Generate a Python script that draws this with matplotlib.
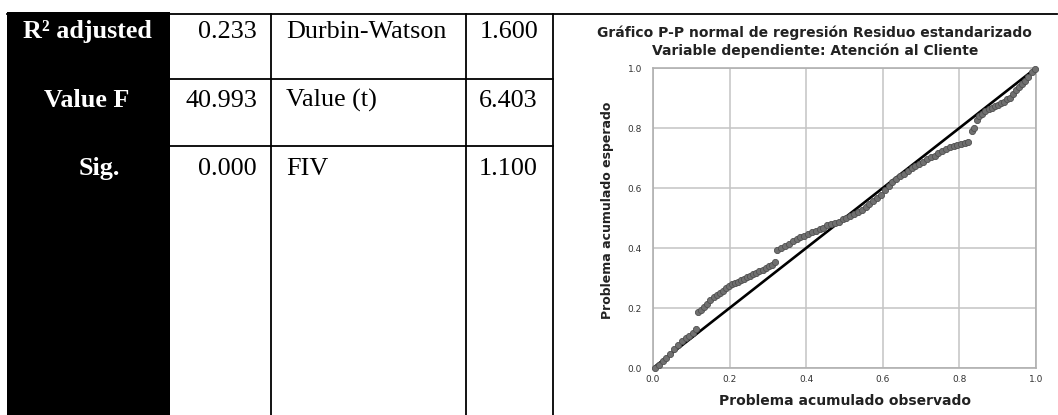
import matplotlib
matplotlib.use('Agg')
import matplotlib.pyplot as plt
from matplotlib.patches import Rectangle

# table content
row_labels = ['R² adjusted', 'Value F', 'Sig.']
row_values = ['0.233', '40.993', '0.000']
stat_names = ['Durbin-Watson', 'Value (t)', 'FIV']
stat_values = ['1.600', '6.403', '1.100']

obs = [0.005, 0.015, 0.025, 0.035, 0.045, 0.055, 0.065, 0.075, 0.085, 0.095, 0.105, 0.112,
       0.118, 0.126, 0.134, 0.142, 0.150, 0.158, 0.166, 0.174, 0.182, 0.190, 0.198, 0.206,
       0.214, 0.222, 0.230, 0.238, 0.246, 0.254, 0.262, 0.270, 0.278, 0.286, 0.294, 0.302,
       0.310, 0.318,
       0.325, 0.335, 0.345, 0.355, 0.365, 0.375, 0.385, 0.395, 0.405, 0.415, 0.425, 0.435,
       0.445, 0.455, 0.465, 0.475, 0.485, 0.495, 0.505, 0.515, 0.525, 0.535, 0.545, 0.555,
       0.565, 0.575, 0.585, 0.595, 0.605, 0.615,
       0.625, 0.635, 0.645, 0.655, 0.665, 0.675, 0.685, 0.695, 0.705, 0.715, 0.725, 0.735,
       0.745, 0.755, 0.765, 0.775, 0.785, 0.795, 0.805, 0.815, 0.822,
       0.832, 0.838, 0.845, 0.852, 0.860, 0.868, 0.876, 0.884, 0.892, 0.900, 0.908, 0.916,
       0.924, 0.932, 0.940, 0.948, 0.956, 0.964, 0.972, 0.980, 0.990, 0.998]
exp = [0.000, 0.010, 0.022, 0.035, 0.048, 0.062, 0.078, 0.090, 0.100, 0.108, 0.118, 0.130,
       0.188, 0.195, 0.205, 0.215, 0.228, 0.238, 0.245, 0.250, 0.258, 0.268, 0.275, 0.280,
       0.283, 0.288, 0.292, 0.298, 0.302, 0.308, 0.312, 0.318, 0.322, 0.328, 0.335, 0.340,
       0.345, 0.352,
       0.392, 0.400, 0.408, 0.415, 0.425, 0.430, 0.435, 0.440, 0.448, 0.452, 0.456, 0.462,
       0.468, 0.475, 0.480, 0.483, 0.488, 0.495, 0.500, 0.505, 0.512, 0.520, 0.528, 0.535,
       0.545, 0.555, 0.565, 0.578, 0.592, 0.605,
       0.620, 0.630, 0.640, 0.648, 0.656, 0.665, 0.672, 0.680, 0.688, 0.695, 0.702, 0.708,
       0.715, 0.722, 0.730, 0.735, 0.740, 0.742, 0.745, 0.750, 0.752,
       0.790, 0.800, 0.825, 0.840, 0.848, 0.855, 0.862, 0.868, 0.872, 0.878, 0.882, 0.888,
       0.895, 0.900, 0.912, 0.925, 0.935, 0.945, 0.955, 0.970, 0.985, 0.998]
ticks = [0.0, 0.2, 0.4, 0.6, 0.8, 1.0]

W, H = 1058, 415
fig = plt.figure(figsize=(W / 100, H / 100), dpi=100)
fig.patch.set_facecolor('white')

# full-figure axes in pixel units for the table
tab = fig.add_axes([0, 0, 1, 1])
tab.set_xlim(0, W)
tab.set_ylim(H, 0)
tab.axis('off')

serif = 'Liberation Serif'
tab.add_patch(Rectangle((7, 12), 163, H - 12, color='black', lw=0))
tab.plot([7, 1057], [14, 14], color='black', lw=1.3)
for xv in [271, 466, 553]:
    tab.plot([xv, xv], [14, H], color='black', lw=1.3)
for yv in [79, 146]:
    tab.plot([170, 553], [yv, yv], color='black', lw=1.3)

baselines = [38, 107, 175]
label_x = [87, 87, 99]
for i in range(3):
    y = baselines[i]
    tab.text(label_x[i], y, row_labels[i], color='white', fontweight='bold', family=serif,
             fontsize=18.8, ha='center', va='baseline')
    tab.text(257, y, row_values[i], family=serif, fontsize=18.8, ha='right', va='baseline')
    tab.text(286, y, stat_names[i], family=serif, fontsize=18.8, ha='left', va='baseline')
    tab.text(538, y, stat_values[i], family=serif, fontsize=18.8, ha='right', va='baseline')

# P-P plot
sans = 'DejaVu Sans'
x0, x1, y0, y1 = 653, 1036, 68, 368
ax = fig.add_axes([x0 / W, (H - y1) / H, (x1 - x0) / W, (y1 - y0) / H])
ax.set_xlim(0, 1)
ax.set_ylim(0, 1)
ax.set_facecolor('white')
ax.grid(True, color='#c4c4c4', lw=1.1)
ax.set_axisbelow(True)
for s in ax.spines.values():
    s.set_color('#b0b0b0')
    s.set_linewidth(1.2)
ax.set_xticks(ticks)
ax.set_yticks(ticks)
ax.set_xticklabels([f'{t:.1f}' for t in ticks], family=sans)
ax.set_yticklabels([f'{t:.1f}' for t in ticks], family=sans)
ax.tick_params(length=0, labelsize=6.5, labelcolor='#333333')
ax.tick_params(axis='y', pad=8)
ax.tick_params(axis='x', pad=5)
ax.plot([0, 1], [0, 1], color='black', lw=1.9, zorder=2)
ax.scatter(obs, exp, s=20, color='#707070', edgecolors='#505050', linewidths=0.6,
           zorder=3, clip_on=False)

fig.text(814 / W, 1 - 33 / H, 'Gráfico P-P normal de regresión Residuo estandarizado',
         family=sans, fontweight='bold', fontsize=10, ha='center', va='center', color='#222222')
fig.text(815 / W, 1 - 51 / H, 'Variable dependiente: Atención al Cliente',
         family=sans, fontweight='bold', fontsize=10, ha='center', va='center', color='#222222')
fig.text(845 / W, 1 - 401 / H, 'Problema acumulado observado',
         family=sans, fontweight='bold', fontsize=10, ha='center', va='center', color='#222222')
fig.text(607 / W, 1 - 210 / H, 'Problema acumulado esperado', rotation=90,
         family=sans, fontweight='bold', fontsize=9, ha='center', va='center', color='#222222')

fig.savefig('out.png', dpi=100, facecolor='white')
